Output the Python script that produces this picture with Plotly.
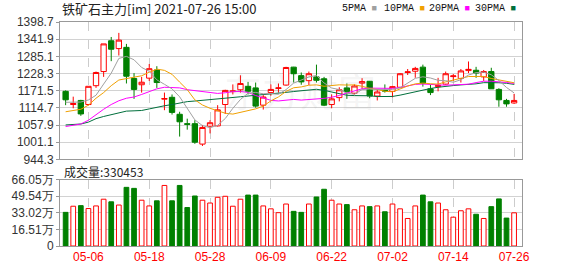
import plotly.graph_objects as go
import pandas as pd

dates = ["04-28", "04-29", "04-30", "05-06", "05-07", "05-10", "05-11", "05-12", "05-13", "05-14",
         "05-17", "05-18", "05-19", "05-20", "05-21", "05-24", "05-25", "05-26", "05-27", "05-28",
         "05-31", "06-01", "06-02", "06-03", "06-04", "06-07", "06-08", "06-09", "06-10", "06-11",
         "06-15", "06-16", "06-17", "06-18", "06-21", "06-22", "06-23", "06-24", "06-25", "06-28",
         "06-29", "06-30", "07-01", "07-02", "07-05", "07-06", "07-07", "07-08", "07-09", "07-12",
         "07-13", "07-14", "07-15", "07-16", "07-19", "07-20", "07-21", "07-22", "07-23", "07-26"]

open_ = [1169.5, 1125.9, 1139.4, 1125.9, 1188.2, 1234.9, 1336.7, 1310.8, 1314.9, 1212.1,
         1191.3, 1213.1, 1240.1, 1143.6, 1149.8, 1093.7, 1062.6, 1062.6, 995.1, 1054.3,
         1055.3, 1125.9, 1168.5, 1174.7, 1186.1, 1180.9, 1123.8, 1165.4, 1178.9, 1190.3,
         1249.5, 1221.4, 1204.8, 1217.3, 1211.1, 1125.9, 1148.8, 1180.9, 1163.3, 1196.5,
         1202.8, 1153.9, 1172.6, 1169.5, 1183.0, 1231.8, 1236.0, 1249.5, 1177.8, 1185.1,
         1193.4, 1218.3, 1212.1, 1238.1, 1239.1, 1217.3, 1234.9, 1175.8, 1139.4, 1131.1]
high = [1172.6, 1151.9, 1141.5, 1186.1, 1234.9, 1326.3, 1349.2, 1362.7, 1326.3, 1229.8,
        1217.3, 1259.9, 1252.6, 1165.4, 1159.2, 1102.0, 1079.2, 1074.0, 1058.4, 1074.0,
        1123.8, 1174.7, 1192.4, 1222.5, 1200.7, 1198.6, 1157.1, 1192.4, 1195.5, 1250.5,
        1250.5, 1231.8, 1234.9, 1257.8, 1217.3, 1159.2, 1183.0, 1195.5, 1192.4, 1213.1,
        1203.8, 1175.8, 1192.4, 1188.2, 1229.8, 1243.3, 1250.5, 1257.8, 1191.3, 1214.2,
        1234.9, 1226.6, 1243.3, 1268.2, 1250.5, 1240.1, 1247.4, 1179.9, 1144.6, 1161.2]
low = [1123.8, 1113.5, 1088.5, 1122.8, 1180.9, 1217.3, 1269.2, 1287.9, 1195.5, 1144.6,
       1165.4, 1203.8, 1180.9, 1107.2, 1092.7, 1020.0, 1042.8, 996.1, 988.8, 1030.4,
       1053.2, 1094.8, 1159.2, 1165.4, 1159.2, 1115.5, 1109.3, 1155.0, 1165.4, 1188.2,
       1198.6, 1191.3, 1190.3, 1198.6, 1120.7, 1113.5, 1136.3, 1144.6, 1159.2, 1177.8,
       1146.7, 1139.4, 1165.4, 1149.8, 1180.9, 1223.5, 1214.2, 1185.1, 1157.1, 1169.5,
       1191.3, 1203.8, 1198.6, 1229.8, 1214.2, 1203.8, 1177.8, 1118.6, 1118.6, 1128.0]
close = [1141.5, 1129.0, 1094.8, 1186.1, 1231.8, 1326.3, 1308.7, 1338.8, 1219.4, 1175.8,
         1199.6, 1244.3, 1198.6, 1145.6, 1099.9, 1068.8, 1060.5, 1001.3, 1050.1, 1065.7,
         1108.3, 1172.6, 1170.6, 1195.5, 1169.5, 1120.7, 1150.8, 1175.8, 1180.9, 1248.4,
         1227.7, 1200.7, 1227.7, 1205.9, 1123.8, 1144.6, 1174.7, 1168.5, 1187.2, 1201.7,
         1153.9, 1167.4, 1170.6, 1185.1, 1227.7, 1233.9, 1245.3, 1195.5, 1165.4, 1189.3,
         1227.7, 1220.4, 1237.0, 1242.2, 1229.8, 1234.9, 1177.8, 1141.5, 1128.0, 1139.4]

# volume in 万手 (×10000)
volume_wan = [33.5, 39.6, 40.2, 37.3, 39.9, 46.6, 44.0, 40.8, 58.4, 57.4,
              45.6, 39.9, 45.0, 60.3, 45.0, 60.3, 38.3, 49.8, 45.6, 42.8,
              48.5, 49.5, 39.6, 46.6, 50.7, 50.7, 39.9, 37.0, 33.2, 41.8,
              34.5, 33.5, 41.8, 48.8, 56.5, 45.6, 41.8, 41.2, 36.1, 39.9,
              39.2, 39.9, 34.1, 41.8, 37.0, 27.4, 39.9, 50.7, 44.0, 42.8,
              36.1, 28.7, 35.1, 37.0, 31.6, 27.4, 39.2, 46.9, 27.8, 33.0453]

# moving-average values before a full window is visible
ma5_head = [1133.2, 1133.2, 1134.2, 1141.0]
ma10_head = [1102.0, 1105.1, 1110.3, 1123.8, 1146.7, 1165.4, 1188.2, 1206.9, 1212.1]
ma20_head = [1053.2, 1056.3, 1061.5, 1074.0, 1092.7, 1110.3, 1125.9, 1138.4, 1146.7, 1150.8,
             1159.2, 1169.5, 1177.8, 1183.0, 1183.0, 1180.9, 1175.0, 1171.5, 1168.0]
ma30_head = [1058.4, 1060.5, 1061.5, 1067.8, 1079.2, 1086.4, 1092.7, 1099.9, 1104.1, 1105.1,
             1106.2, 1111.4, 1117.6, 1121.8, 1125.9, 1131.1, 1135.5, 1137.5, 1139.5, 1141.8,
             1144.0, 1146.5, 1149.0, 1151.5, 1154.0, 1156.0, 1158.5, 1161.0, 1163.5]

y_ticks = [944.3, 1001.1, 1057.9, 1114.7, 1171.5, 1228.3, 1285.1, 1341.9, 1398.7]
vol_ticks = [0, 165100, 330200, 495400, 660500]
vol_ticktext = ["0", "16.51万", "33.02万", "49.54万", "66.05万"]
x_ticks = dates[3::8]

RED = "#ff0000"
GREEN = "#008000"
ma_colors = {5: "#a0a0a0", 10: "#f0a000", 20: "#ff00ff", 30: "#006f3c"}
heads = {5: ma5_head, 10: ma10_head, 20: ma20_head, 30: ma30_head}

s = pd.Series(close)
fig = go.Figure()

for n in (30, 20, 10, 5):
    ma = s.rolling(n).mean().round(2).tolist()
    ma[: n - 1] = heads[n]
    fig.add_trace(go.Scatter(x=dates, y=ma, mode="lines", line=dict(color=ma_colors[n], width=1),
                             xaxis="x2", yaxis="y2", hoverinfo="skip", showlegend=False))

fig.add_trace(go.Candlestick(
    x=dates, open=open_, high=high, low=low, close=close, xaxis="x2", yaxis="y2",
    increasing=dict(line=dict(color=RED, width=1), fillcolor="white"),
    decreasing=dict(line=dict(color=GREEN, width=1), fillcolor=GREEN),
    whiskerwidth=0, showlegend=False))

vol = [v * 10000 for v in volume_wan]
up = [c >= o for o, c in zip(open_, close)]
fig.add_trace(go.Bar(
    x=dates, y=vol, width=0.62,
    marker=dict(color=["white" if u else GREEN for u in up],
                line=dict(color=[RED if u else GREEN for u in up], width=1)),
    xaxis="x", yaxis="y", showlegend=False))

xr = [-0.74, 60.04]
grid = "#d2d2d2"
frame = "#999999"
tickfont = dict(family="Liberation Sans, Arial, sans-serif", size=12, color="#333333")

common_x = dict(type="category", range=xr, tickmode="array", tickvals=x_ticks,
                showgrid=True, gridcolor="#cccccc", griddash="dash", gridwidth=1,
                showline=True, linecolor=frame, linewidth=1, mirror=True,
                ticks="", rangeslider=dict(visible=False), fixedrange=True)

fig.update_layout(
    width=578, height=276,
    margin=dict(l=55, r=56, t=22, b=21),
    paper_bgcolor="white", plot_bgcolor="white",
    xaxis=dict(**common_x, anchor="y",
               tickfont=dict(family="Liberation Sans, Arial, sans-serif", size=12, color=RED)),
    xaxis2=dict(**common_x, anchor="y2", showticklabels=False, matches="x"),
    yaxis=dict(domain=[0, 0.2961], range=[0, 660500], tickmode="array", tickvals=vol_ticks,
               ticktext=vol_ticktext, showgrid=True, gridcolor=grid, gridwidth=1,
               showline=True, linecolor=frame, linewidth=1, mirror=True, zeroline=False,
               ticks="outside", ticklen=3, tickcolor=frame,
               tickfont=dict(family="Liberation Sans Narrow, Liberation Sans, Arial, sans-serif",
                             size=12, color="#333333")),
    yaxis2=dict(domain=[0.3863, 1], range=[944.3, 1398.7], tickmode="array", tickvals=y_ticks,
                ticktext=[f"{v:.1f}" for v in y_ticks], showgrid=True, gridcolor=grid,
                gridwidth=1, showline=True, linecolor=frame, linewidth=1, mirror=True,
                zeroline=False, ticks="outside", ticklen=3, tickcolor=frame, tickfont=tickfont),
    bargap=0.38,
    boxgap=0.3, boxgroupgap=0,
    hovermode=False,
)

W, TOP, BOT, L = 467.0, 22.0, 255.0, 55.0
def px(x):
    return (x - L) / W
def py(y):
    return (BOT - y) / (BOT - TOP)

anns = [
    dict(text="铁矿石主力[im] 2021-07-26 15:00", x=px(55), y=py(8), xanchor="left", yanchor="middle",
         font=dict(family="Noto Sans CJK SC", size=13, color="#222222")),
    dict(text="成交量:330453", x=px(57), y=py(177), xanchor="left", yanchor="middle",
         font=dict(family="Noto Sans CJK SC", size=12, color="#222222")),
    dict(text="东方财富", x=px(298), y=py(92), xanchor="center", yanchor="middle",
         font=dict(family="Noto Sans CJK SC", size=38, color="rgba(150,150,150,0.10)")),
]
legend_items = [("5PMA", 338, ma_colors[5]), ("10PMA", 380, ma_colors[10]),
                ("20PMA", 426, ma_colors[20]), ("30PMA", 472, ma_colors[30])]
for label, xpos, col in legend_items:
    anns.append(dict(text=label + f'<span style="color:{col};font-size:9px"> ■</span>',
                     x=px(xpos), y=py(8), xanchor="left", yanchor="middle",
                     font=dict(family="Liberation Mono, monospace", size=10, color="#111111")))
for a in anns:
    a.update(xref="paper", yref="paper", showarrow=False)
fig.update_layout(annotations=anns)

fig.write_html("out.html")
